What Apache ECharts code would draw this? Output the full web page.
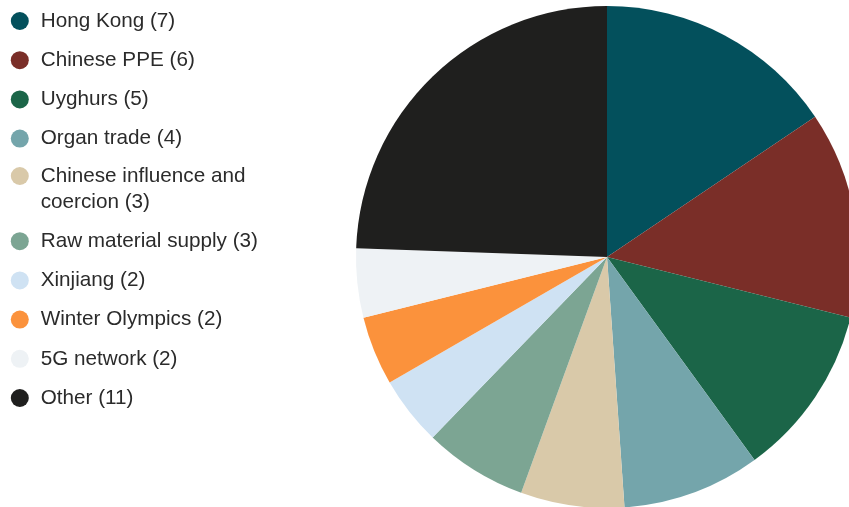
<!DOCTYPE html>
<html>
<head>
<meta charset="utf-8">
<script src="https://cdn.jsdelivr.net/npm/echarts@6/dist/echarts.min.js"></script>
<style>
  html, body { margin: 0; padding: 0; background: #fff; }
  #chart { width: 849px; height: 507px; }
</style>
</head>
<body>
<div id="chart"></div>
<script>
// topics and how many times each came up
const topics = ['Hong Kong', 'Chinese PPE', 'Uyghurs', 'Organ trade', 'Chinese influence and coercion',
  'Raw material supply', 'Xinjiang', 'Winter Olympics', '5G network', 'Other'];
const counts = [7, 6, 5, 4, 3, 3, 2, 2, 2, 11];
const colors = ['#03505c', '#7a2e28', '#1b6548', '#74a5ab', '#d9c9a9',
  '#7ca593', '#cfe2f3', '#fb923c', '#eef2f5', '#1f1f1e'];
const wrappedTopic = topics[4];

const chart = echarts.init(document.getElementById('chart'), null, { renderer: 'canvas' });

const pieData = topics.map((t, i) => ({ name: t, value: counts[i], itemStyle: { color: colors[i] } }));

// legend text is "name (count)"; the long one gets an empty first line
// so that its dot sits next to the first line of text
function legendLabel(name) {
  const label = name + ' (' + counts[topics.indexOf(name)] + ')';
  return name === wrappedTopic ? '\u00a0\n' + label : label;
}

const legendBase = {
  orient: 'vertical',
  left: 10.8,
  padding: 0,
  icon: 'circle',
  itemWidth: 31.8,
  itemHeight: 18,
  itemGap: 13.2,
  selectedMode: false,
  formatter: legendLabel,
  textStyle: {
    fontFamily: 'Liberation Sans, Arial, sans-serif',
    fontSize: 20.7,
    lineHeight: 26,
    color: '#2b2b2b'
  }
};

// two legend blocks so the wrapped item keeps its dot on the first line
const legendA = Object.assign({}, legendBase, {
  top: 8,
  data: topics.slice(0, 4)
});
const legendB = Object.assign({}, legendBase, {
  top: 137,
  data: topics.slice(4).map((t, i) => i === 0
    ? { name: t, textStyle: { width: 215, overflow: 'break' } }
    : t)
});

chart.setOption({
  animation: false,
  legend: [legendA, legendB],
  series: [{
    type: 'pie',
    center: [607, 257],
    radius: 251,
    startAngle: 90,
    clockwise: true,
    label: { show: false },
    labelLine: { show: false },
    itemStyle: { borderWidth: 0 },
    emphasis: { disabled: true },
    data: pieData
  }]
});
</script>
</body>
</html>
